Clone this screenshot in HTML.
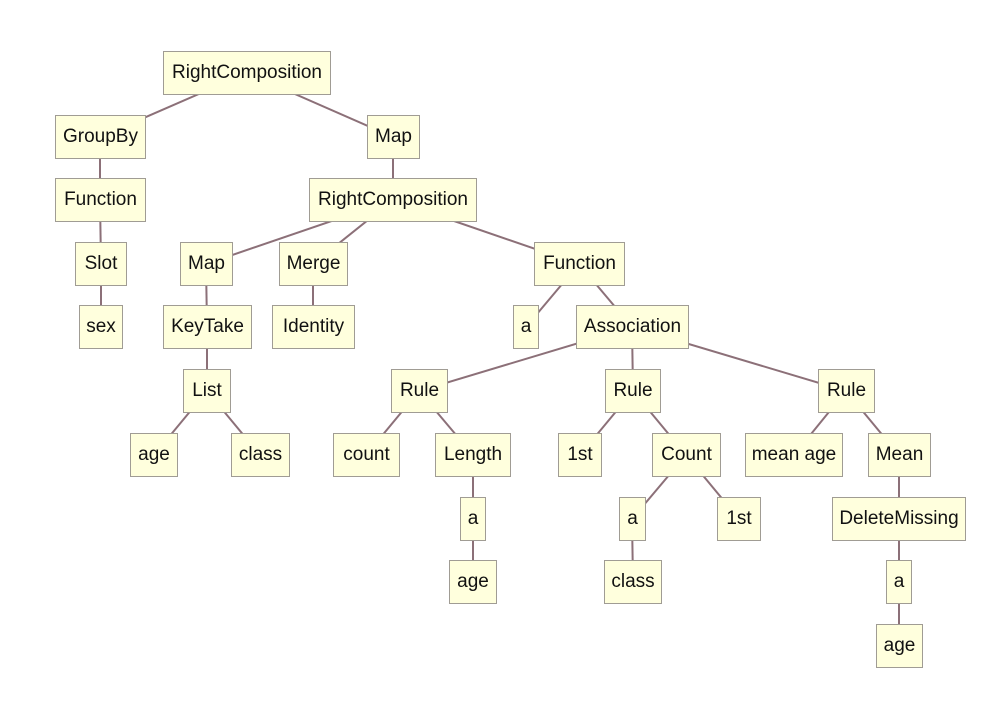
<!DOCTYPE html>
<html><head><meta charset="utf-8"><style>
body{margin:0;width:1000px;height:718px;background:#fff;position:relative;overflow:hidden;font-family:"Liberation Sans",sans-serif}
.b{position:absolute;height:42px;background:#ffffdd;border:1px solid #a09c94;box-sizing:content-box;display:flex;align-items:center;justify-content:center;font-size:19px;color:#111;white-space:nowrap}
svg{position:absolute;left:0;top:0}
</style></head><body>
<svg width="1000" height="718"><g stroke="#8c7078" stroke-width="2">
<line x1="247" y1="73" x2="100" y2="137"/><line x1="247" y1="73" x2="393" y2="137"/>
<line x1="100" y1="137" x2="100" y2="200"/><line x1="100" y1="200" x2="101" y2="264"/><line x1="101" y1="264" x2="101" y2="327"/>
<line x1="393" y1="137" x2="393" y2="200"/>
<line x1="393" y1="200" x2="206" y2="264"/><line x1="393" y1="200" x2="313" y2="264"/><line x1="393" y1="200" x2="579" y2="264"/>
<line x1="206" y1="264" x2="207" y2="327"/><line x1="207" y1="327" x2="207" y2="391"/>
<line x1="207" y1="391" x2="154" y2="455"/><line x1="207" y1="391" x2="260" y2="455"/>
<line x1="313" y1="264" x2="313" y2="327"/>
<line x1="579" y1="264" x2="526" y2="327"/><line x1="579" y1="264" x2="632" y2="327"/>
<line x1="632" y1="327" x2="419" y2="391"/><line x1="632" y1="327" x2="633" y2="391"/><line x1="632" y1="327" x2="846" y2="391"/>
<line x1="419" y1="391" x2="366" y2="455"/><line x1="419" y1="391" x2="473" y2="455"/>
<line x1="473" y1="455" x2="473" y2="519"/><line x1="473" y1="519" x2="473" y2="582"/>
<line x1="633" y1="391" x2="580" y2="455"/><line x1="633" y1="391" x2="686" y2="455"/>
<line x1="686" y1="455" x2="632" y2="519"/><line x1="686" y1="455" x2="739" y2="519"/>
<line x1="632" y1="519" x2="633" y2="582"/>
<line x1="846" y1="391" x2="794" y2="455"/><line x1="846" y1="391" x2="899" y2="455"/>
<line x1="899" y1="455" x2="899" y2="519"/><line x1="899" y1="519" x2="899" y2="582"/><line x1="899" y1="582" x2="899" y2="646"/>
</g></svg>
<div class="b" style="left:163px;top:51px;width:166px">RightComposition</div>
<div class="b" style="left:55px;top:115px;width:89px">GroupBy</div>
<div class="b" style="left:367px;top:115px;width:51px">Map</div>
<div class="b" style="left:55px;top:178px;width:89px">Function</div>
<div class="b" style="left:309px;top:178px;width:166px">RightComposition</div>
<div class="b" style="left:75px;top:242px;width:50px">Slot</div>
<div class="b" style="left:180px;top:242px;width:51px">Map</div>
<div class="b" style="left:279px;top:242px;width:67px">Merge</div>
<div class="b" style="left:534px;top:242px;width:89px">Function</div>
<div class="b" style="left:79px;top:305px;width:42px">sex</div>
<div class="b" style="left:163px;top:305px;width:87px">KeyTake</div>
<div class="b" style="left:272px;top:305px;width:81px">Identity</div>
<div class="b" style="left:513px;top:305px;width:24px">a</div>
<div class="b" style="left:576px;top:305px;width:111px">Association</div>
<div class="b" style="left:183px;top:369px;width:46px">List</div>
<div class="b" style="left:391px;top:369px;width:55px">Rule</div>
<div class="b" style="left:605px;top:369px;width:54px">Rule</div>
<div class="b" style="left:818px;top:369px;width:55px">Rule</div>
<div class="b" style="left:130px;top:433px;width:46px">age</div>
<div class="b" style="left:231px;top:433px;width:57px">class</div>
<div class="b" style="left:333px;top:433px;width:65px">count</div>
<div class="b" style="left:435px;top:433px;width:74px">Length</div>
<div class="b" style="left:558px;top:433px;width:42px">1st</div>
<div class="b" style="left:652px;top:433px;width:67px">Count</div>
<div class="b" style="left:745px;top:433px;width:96px">mean age</div>
<div class="b" style="left:868px;top:433px;width:61px">Mean</div>
<div class="b" style="left:460px;top:497px;width:24px">a</div>
<div class="b" style="left:619px;top:497px;width:25px">a</div>
<div class="b" style="left:717px;top:497px;width:42px">1st</div>
<div class="b" style="left:832px;top:497px;width:132px">DeleteMissing</div>
<div class="b" style="left:449px;top:560px;width:46px">age</div>
<div class="b" style="left:604px;top:560px;width:56px">class</div>
<div class="b" style="left:886px;top:560px;width:24px">a</div>
<div class="b" style="left:876px;top:624px;width:45px">age</div>
</body></html>
